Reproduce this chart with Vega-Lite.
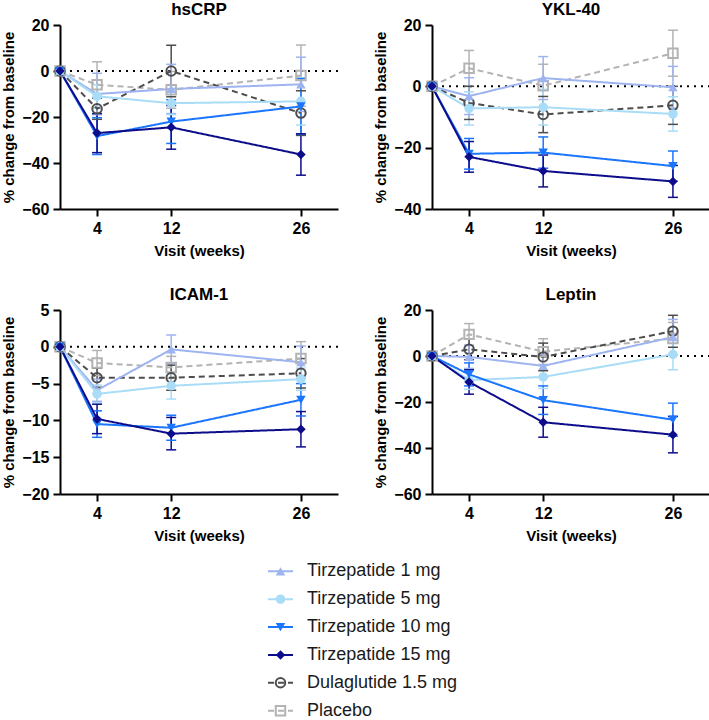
{
  "$schema": "https://vega.github.io/schema/vega-lite/v6.json",
  "padding": {"left": 1, "top": 1, "right": 0, "bottom": 0},
  "background": "white",
  "config": {
    "font": "Liberation Sans",
    "view": {"stroke": null},
    "axis": {"grid": false, "tickCount": 12, "domainColor": "#000", "domainWidth": 2, "tickColor": "#000", "tickWidth": 2, "tickSize": 7, "labelFont": "Liberation Sans", "labelFontSize": 16, "labelFontWeight": "bold", "labelColor": "#000", "labelPadding": 4, "labelOverlap": false, "titleFont": "Liberation Sans", "titleFontSize": 15, "titleFontWeight": "bold", "titleColor": "#000", "titlePadding": 7},
    "axisY": {"labelPadding": 4, "titlePadding": 5},
    "title": {"font": "Liberation Sans", "fontSize": 17, "fontWeight": "bold", "color": "#000", "offset": -2, "frame": "group"}
  },
  "datasets": {
    "main": [
      {"marker": "hsCRP", "series": "Placebo", "week": 0, "value": 0, "lo": null, "hi": null},
      {"marker": "hsCRP", "series": "Placebo", "week": 4, "value": -6, "lo": -16, "hi": 4},
      {"marker": "hsCRP", "series": "Placebo", "week": 12, "value": -8.2, "lo": -16.2, "hi": -0.2},
      {"marker": "hsCRP", "series": "Placebo", "week": 26, "value": -2, "lo": -15.3, "hi": 11.3},
      {"marker": "hsCRP", "series": "Dulaglutide 1.5 mg", "week": 0, "value": 0, "lo": null, "hi": null},
      {"marker": "hsCRP", "series": "Dulaglutide 1.5 mg", "week": 4, "value": -16.4, "lo": -21, "hi": -11.8},
      {"marker": "hsCRP", "series": "Dulaglutide 1.5 mg", "week": 12, "value": 0, "lo": -11.2, "hi": 11.2},
      {"marker": "hsCRP", "series": "Dulaglutide 1.5 mg", "week": 26, "value": -18.3, "lo": -28, "hi": -8.6},
      {"marker": "hsCRP", "series": "Tirzepatide 1 mg", "week": 0, "value": 0, "lo": null, "hi": null},
      {"marker": "hsCRP", "series": "Tirzepatide 1 mg", "week": 4, "value": -10, "lo": -19, "hi": -1},
      {"marker": "hsCRP", "series": "Tirzepatide 1 mg", "week": 12, "value": -7.8, "lo": -18.5, "hi": 2.9},
      {"marker": "hsCRP", "series": "Tirzepatide 1 mg", "week": 26, "value": -5.8, "lo": -17.6, "hi": 6},
      {"marker": "hsCRP", "series": "Tirzepatide 5 mg", "week": 0, "value": 0, "lo": null, "hi": null},
      {"marker": "hsCRP", "series": "Tirzepatide 5 mg", "week": 4, "value": -11, "lo": -16, "hi": -6},
      {"marker": "hsCRP", "series": "Tirzepatide 5 mg", "week": 12, "value": -14, "lo": -19, "hi": -9},
      {"marker": "hsCRP", "series": "Tirzepatide 5 mg", "week": 26, "value": -13.2, "lo": -23.5, "hi": -2.9},
      {"marker": "hsCRP", "series": "Tirzepatide 10 mg", "week": 0, "value": 0, "lo": null, "hi": null},
      {"marker": "hsCRP", "series": "Tirzepatide 10 mg", "week": 4, "value": -28.3, "lo": -36.3, "hi": -20.3},
      {"marker": "hsCRP", "series": "Tirzepatide 10 mg", "week": 12, "value": -22, "lo": -31.5, "hi": -12.5},
      {"marker": "hsCRP", "series": "Tirzepatide 10 mg", "week": 26, "value": -15.4, "lo": -27.5, "hi": -3.3},
      {"marker": "hsCRP", "series": "Tirzepatide 15 mg", "week": 0, "value": 0, "lo": null, "hi": null},
      {"marker": "hsCRP", "series": "Tirzepatide 15 mg", "week": 4, "value": -27, "lo": -35.5, "hi": -18.5},
      {"marker": "hsCRP", "series": "Tirzepatide 15 mg", "week": 12, "value": -24.5, "lo": -34, "hi": -15},
      {"marker": "hsCRP", "series": "Tirzepatide 15 mg", "week": 26, "value": -36.3, "lo": -45.3, "hi": -27.3},

      {"marker": "YKL-40", "series": "Placebo", "week": 0, "value": 0, "lo": null, "hi": null},
      {"marker": "YKL-40", "series": "Placebo", "week": 4, "value": 5.9, "lo": 0.1, "hi": 11.7},
      {"marker": "YKL-40", "series": "Placebo", "week": 12, "value": 0.2, "lo": -6.8, "hi": 7.2},
      {"marker": "YKL-40", "series": "Placebo", "week": 26, "value": 10.8, "lo": 3.3, "hi": 18.3},
      {"marker": "YKL-40", "series": "Dulaglutide 1.5 mg", "week": 0, "value": 0, "lo": null, "hi": null},
      {"marker": "YKL-40", "series": "Dulaglutide 1.5 mg", "week": 4, "value": -5.4, "lo": -10.8, "hi": 0},
      {"marker": "YKL-40", "series": "Dulaglutide 1.5 mg", "week": 12, "value": -9.2, "lo": -15.1, "hi": -3.3},
      {"marker": "YKL-40", "series": "Dulaglutide 1.5 mg", "week": 26, "value": -6.2, "lo": -12.4, "hi": 0},
      {"marker": "YKL-40", "series": "Tirzepatide 1 mg", "week": 0, "value": 0, "lo": null, "hi": null},
      {"marker": "YKL-40", "series": "Tirzepatide 1 mg", "week": 4, "value": -3.2, "lo": -9.2, "hi": 2.8},
      {"marker": "YKL-40", "series": "Tirzepatide 1 mg", "week": 12, "value": 2.7, "lo": -4.3, "hi": 9.7},
      {"marker": "YKL-40", "series": "Tirzepatide 1 mg", "week": 26, "value": -0.3, "lo": -7.1, "hi": 6.5},
      {"marker": "YKL-40", "series": "Tirzepatide 5 mg", "week": 0, "value": 0, "lo": null, "hi": null},
      {"marker": "YKL-40", "series": "Tirzepatide 5 mg", "week": 4, "value": -7.2, "lo": -12.6, "hi": -1.8},
      {"marker": "YKL-40", "series": "Tirzepatide 5 mg", "week": 12, "value": -6.8, "lo": -12.6, "hi": -1},
      {"marker": "YKL-40", "series": "Tirzepatide 5 mg", "week": 26, "value": -9, "lo": -14.6, "hi": -3.4},
      {"marker": "YKL-40", "series": "Tirzepatide 10 mg", "week": 0, "value": 0, "lo": null, "hi": null},
      {"marker": "YKL-40", "series": "Tirzepatide 10 mg", "week": 4, "value": -22, "lo": -27, "hi": -17},
      {"marker": "YKL-40", "series": "Tirzepatide 10 mg", "week": 12, "value": -21.6, "lo": -26.7, "hi": -16.5},
      {"marker": "YKL-40", "series": "Tirzepatide 10 mg", "week": 26, "value": -26, "lo": -30.9, "hi": -21.1},
      {"marker": "YKL-40", "series": "Tirzepatide 15 mg", "week": 0, "value": 0, "lo": null, "hi": null},
      {"marker": "YKL-40", "series": "Tirzepatide 15 mg", "week": 4, "value": -23, "lo": -28, "hi": -18},
      {"marker": "YKL-40", "series": "Tirzepatide 15 mg", "week": 12, "value": -27.6, "lo": -32.8, "hi": -22.4},
      {"marker": "YKL-40", "series": "Tirzepatide 15 mg", "week": 26, "value": -31, "lo": -36.2, "hi": -25.8},

      {"marker": "ICAM-1", "series": "Placebo", "week": 0, "value": 0, "lo": null, "hi": null},
      {"marker": "ICAM-1", "series": "Placebo", "week": 4, "value": -2.2, "lo": -3.9, "hi": -0.5},
      {"marker": "ICAM-1", "series": "Placebo", "week": 12, "value": -2.8, "lo": -4.3, "hi": -1.3},
      {"marker": "ICAM-1", "series": "Placebo", "week": 26, "value": -1.6, "lo": -3.9, "hi": 0.7},
      {"marker": "ICAM-1", "series": "Dulaglutide 1.5 mg", "week": 0, "value": 0, "lo": null, "hi": null},
      {"marker": "ICAM-1", "series": "Dulaglutide 1.5 mg", "week": 4, "value": -4.2, "lo": -5.5, "hi": -2.9},
      {"marker": "ICAM-1", "series": "Dulaglutide 1.5 mg", "week": 12, "value": -4.2, "lo": -5.9, "hi": -2.5},
      {"marker": "ICAM-1", "series": "Dulaglutide 1.5 mg", "week": 26, "value": -3.6, "lo": -5.6, "hi": -1.6},
      {"marker": "ICAM-1", "series": "Tirzepatide 1 mg", "week": 0, "value": 0, "lo": null, "hi": null},
      {"marker": "ICAM-1", "series": "Tirzepatide 1 mg", "week": 4, "value": -5.9, "lo": -7.4, "hi": -4.4},
      {"marker": "ICAM-1", "series": "Tirzepatide 1 mg", "week": 12, "value": -0.35, "lo": -2.3, "hi": 1.6},
      {"marker": "ICAM-1", "series": "Tirzepatide 1 mg", "week": 26, "value": -2.1, "lo": -4.3, "hi": 0.1},
      {"marker": "ICAM-1", "series": "Tirzepatide 5 mg", "week": 0, "value": 0, "lo": null, "hi": null},
      {"marker": "ICAM-1", "series": "Tirzepatide 5 mg", "week": 4, "value": -6.4, "lo": -7.6, "hi": -5.2},
      {"marker": "ICAM-1", "series": "Tirzepatide 5 mg", "week": 12, "value": -5.3, "lo": -7.1, "hi": -3.5},
      {"marker": "ICAM-1", "series": "Tirzepatide 5 mg", "week": 26, "value": -4.4, "lo": -5.9, "hi": -2.9},
      {"marker": "ICAM-1", "series": "Tirzepatide 10 mg", "week": 0, "value": 0, "lo": null, "hi": null},
      {"marker": "ICAM-1", "series": "Tirzepatide 10 mg", "week": 4, "value": -10.5, "lo": -12.3, "hi": -8.7},
      {"marker": "ICAM-1", "series": "Tirzepatide 10 mg", "week": 12, "value": -11, "lo": -12.7, "hi": -9.3},
      {"marker": "ICAM-1", "series": "Tirzepatide 10 mg", "week": 26, "value": -7.2, "lo": -9.4, "hi": -5},
      {"marker": "ICAM-1", "series": "Tirzepatide 15 mg", "week": 0, "value": 0, "lo": null, "hi": null},
      {"marker": "ICAM-1", "series": "Tirzepatide 15 mg", "week": 4, "value": -9.8, "lo": -11.8, "hi": -7.8},
      {"marker": "ICAM-1", "series": "Tirzepatide 15 mg", "week": 12, "value": -11.8, "lo": -14, "hi": -9.6},
      {"marker": "ICAM-1", "series": "Tirzepatide 15 mg", "week": 26, "value": -11.2, "lo": -13.6, "hi": -8.8},

      {"marker": "Leptin", "series": "Placebo", "week": 0, "value": 0, "lo": null, "hi": null},
      {"marker": "Leptin", "series": "Placebo", "week": 4, "value": 9.4, "lo": 4.7, "hi": 14.1},
      {"marker": "Leptin", "series": "Placebo", "week": 12, "value": 1.9, "lo": -3.7, "hi": 7.5},
      {"marker": "Leptin", "series": "Placebo", "week": 26, "value": 7.6, "lo": 0.6, "hi": 14.6},
      {"marker": "Leptin", "series": "Dulaglutide 1.5 mg", "week": 0, "value": 0, "lo": null, "hi": null},
      {"marker": "Leptin", "series": "Dulaglutide 1.5 mg", "week": 4, "value": 2.9, "lo": -1.6, "hi": 7.4},
      {"marker": "Leptin", "series": "Dulaglutide 1.5 mg", "week": 12, "value": -0.4, "lo": -6.4, "hi": 5.6},
      {"marker": "Leptin", "series": "Dulaglutide 1.5 mg", "week": 26, "value": 10.8, "lo": 3.8, "hi": 17.7},
      {"marker": "Leptin", "series": "Tirzepatide 1 mg", "week": 0, "value": 0, "lo": null, "hi": null},
      {"marker": "Leptin", "series": "Tirzepatide 1 mg", "week": 4, "value": -0.4, "lo": -5.4, "hi": 4.6},
      {"marker": "Leptin", "series": "Tirzepatide 1 mg", "week": 12, "value": -4.3, "lo": -9.3, "hi": 0.7},
      {"marker": "Leptin", "series": "Tirzepatide 1 mg", "week": 26, "value": 8.2, "lo": 0.5, "hi": 15.9},
      {"marker": "Leptin", "series": "Tirzepatide 5 mg", "week": 0, "value": 0, "lo": null, "hi": null},
      {"marker": "Leptin", "series": "Tirzepatide 5 mg", "week": 4, "value": -10.5, "lo": -14.5, "hi": -6.5},
      {"marker": "Leptin", "series": "Tirzepatide 5 mg", "week": 12, "value": -9.1, "lo": -14.1, "hi": -4.1},
      {"marker": "Leptin", "series": "Tirzepatide 5 mg", "week": 26, "value": 0.7, "lo": -6, "hi": 7.4},
      {"marker": "Leptin", "series": "Tirzepatide 10 mg", "week": 0, "value": 0, "lo": null, "hi": null},
      {"marker": "Leptin", "series": "Tirzepatide 10 mg", "week": 4, "value": -8, "lo": -13, "hi": -3},
      {"marker": "Leptin", "series": "Tirzepatide 10 mg", "week": 12, "value": -19.2, "lo": -25.4, "hi": -13},
      {"marker": "Leptin", "series": "Tirzepatide 10 mg", "week": 26, "value": -27.7, "lo": -34.9, "hi": -20.5},
      {"marker": "Leptin", "series": "Tirzepatide 15 mg", "week": 0, "value": 0, "lo": null, "hi": null},
      {"marker": "Leptin", "series": "Tirzepatide 15 mg", "week": 4, "value": -11.3, "lo": -16.6, "hi": -6},
      {"marker": "Leptin", "series": "Tirzepatide 15 mg", "week": 12, "value": -28.8, "lo": -35.3, "hi": -22.3},
      {"marker": "Leptin", "series": "Tirzepatide 15 mg", "week": 26, "value": -34.2, "lo": -42.1, "hi": -26.3}
    ],
    "legend": [
      {"series": "Tirzepatide 1 mg"},
      {"series": "Tirzepatide 5 mg"},
      {"series": "Tirzepatide 10 mg"},
      {"series": "Tirzepatide 15 mg"},
      {"series": "Dulaglutide 1.5 mg"},
      {"series": "Placebo"}
    ]
  },
  "spacing": 19,
  "center": false,
  "resolve": {"scale": {"x": "independent", "y": "independent"}},
  "vconcat": [
    {
      "spacing": 28,
      "resolve": {"scale": {"x": "independent", "y": "independent"}},
      "vconcat": [
        {
          "spacing": 34,
          "resolve": {"scale": {"x": "independent", "y": "independent"}},
          "hconcat": [
            {
              "width": 278, "height": 184, "title": "hsCRP",
              "layer": [
                {"data": {"values": [{}]}, "mark": {"type": "rule", "color": "#000", "strokeWidth": 2, "strokeDash": [2, 5]},
                 "encoding": {"y": {"datum": 0, "type": "quantitative", "scale": {"domain": [-60, 20], "nice": false, "zero": false}, "axis": {"values": [-60, -40, -20, 0, 20], "title": "% change from baseline"}}}},
                {"data": {"name": "main"}, "transform": [{"filter": "datum.marker === 'hsCRP'"}], "mark": {"type": "rule", "strokeWidth": 1.5},
                 "encoding": {"x": {"field": "week", "type": "quantitative", "scale": {"domain": [0, 30], "nice": false, "zero": false}, "axis": {"values": [4, 12, 26], "title": "Visit (weeks)"}},
                  "y": {"field": "lo", "type": "quantitative", "scale": {"domain": [-60, 20], "nice": false, "zero": false}, "axis": {"values": [-60, -40, -20, 0, 20], "title": "% change from baseline"}}, "y2": {"field": "hi"},
                  "color": {"field": "series", "type": "nominal", "scale": {"domain": ["Tirzepatide 1 mg", "Tirzepatide 5 mg", "Tirzepatide 10 mg", "Tirzepatide 15 mg", "Dulaglutide 1.5 mg", "Placebo"], "range": ["#9db4f0", "#a9dcf6", "#1a75ff", "#0d0d8c", "#4d4d4d", "#b3b3b3"]}, "legend": null}}},
                {"data": {"name": "main"}, "transform": [{"filter": "datum.marker === 'hsCRP'"}], "mark": {"type": "tick", "orient": "horizontal", "size": 10, "thickness": 1.5, "opacity": 1},
                 "encoding": {"x": {"field": "week", "type": "quantitative", "title": "Visit (weeks)"}, "y": {"field": "lo", "type": "quantitative", "title": "% change from baseline"}, "color": {"field": "series", "type": "nominal", "legend": null}}},
                {"data": {"name": "main"}, "transform": [{"filter": "datum.marker === 'hsCRP'"}], "mark": {"type": "tick", "orient": "horizontal", "size": 10, "thickness": 1.5, "opacity": 1},
                 "encoding": {"x": {"field": "week", "type": "quantitative", "title": "Visit (weeks)"}, "y": {"field": "hi", "type": "quantitative", "title": "% change from baseline"}, "color": {"field": "series", "type": "nominal", "legend": null}}},
                {"data": {"name": "main"}, "transform": [{"filter": "datum.marker === 'hsCRP'"}], "mark": {"type": "line", "strokeWidth": 2},
                 "encoding": {"x": {"field": "week", "type": "quantitative", "title": "Visit (weeks)"}, "y": {"field": "value", "type": "quantitative", "title": "% change from baseline"}, "color": {"field": "series", "type": "nominal", "legend": null},
                  "strokeDash": {"field": "series", "type": "nominal", "scale": {"domain": ["Tirzepatide 1 mg", "Tirzepatide 5 mg", "Tirzepatide 10 mg", "Tirzepatide 15 mg", "Dulaglutide 1.5 mg", "Placebo"], "range": [[1, 0], [1, 0], [1, 0], [1, 0], [6, 4], [6, 4]]}, "legend": null}}},
                {"data": {"name": "main"}, "transform": [{"filter": "datum.marker === 'hsCRP' && (datum.series === 'Placebo' || datum.series === 'Dulaglutide 1.5 mg')"}], "mark": {"type": "point", "filled": false, "size": 90, "strokeWidth": 2, "opacity": 1},
                 "encoding": {"x": {"field": "week", "type": "quantitative", "title": "Visit (weeks)"}, "y": {"field": "value", "type": "quantitative", "title": "% change from baseline"}, "color": {"field": "series", "type": "nominal", "legend": null},
                  "shape": {"field": "series", "type": "nominal", "scale": {"domain": ["Tirzepatide 1 mg", "Tirzepatide 5 mg", "Tirzepatide 10 mg", "Tirzepatide 15 mg", "Dulaglutide 1.5 mg", "Placebo"], "range": ["triangle-up", "circle", "triangle-down", "diamond", "circle", "square"]}, "legend": null}}},
                {"data": {"name": "main"}, "transform": [{"filter": "datum.marker === 'hsCRP' && datum.series !== 'Placebo' && datum.series !== 'Dulaglutide 1.5 mg'"}], "mark": {"type": "point", "filled": true, "size": 90, "opacity": 1},
                 "encoding": {"x": {"field": "week", "type": "quantitative", "title": "Visit (weeks)"}, "y": {"field": "value", "type": "quantitative", "title": "% change from baseline"}, "color": {"field": "series", "type": "nominal", "legend": null}, "shape": {"field": "series", "type": "nominal", "legend": null}}}
              ]
            },
            {
              "width": 278, "height": 184, "title": "YKL-40",
              "layer": [
                {"data": {"values": [{}]}, "mark": {"type": "rule", "color": "#000", "strokeWidth": 2, "strokeDash": [2, 5]},
                 "encoding": {"y": {"datum": 0, "type": "quantitative", "scale": {"domain": [-40, 20], "nice": false, "zero": false}, "axis": {"values": [-40, -20, 0, 20], "title": "% change from baseline"}}}},
                {"data": {"name": "main"}, "transform": [{"filter": "datum.marker === 'YKL-40'"}], "mark": {"type": "rule", "strokeWidth": 1.5},
                 "encoding": {"x": {"field": "week", "type": "quantitative", "scale": {"domain": [0, 30], "nice": false, "zero": false}, "axis": {"values": [4, 12, 26], "title": "Visit (weeks)"}},
                  "y": {"field": "lo", "type": "quantitative", "scale": {"domain": [-40, 20], "nice": false, "zero": false}, "axis": {"values": [-40, -20, 0, 20], "title": "% change from baseline"}}, "y2": {"field": "hi"},
                  "color": {"field": "series", "type": "nominal", "scale": {"domain": ["Tirzepatide 1 mg", "Tirzepatide 5 mg", "Tirzepatide 10 mg", "Tirzepatide 15 mg", "Dulaglutide 1.5 mg", "Placebo"], "range": ["#9db4f0", "#a9dcf6", "#1a75ff", "#0d0d8c", "#4d4d4d", "#b3b3b3"]}, "legend": null}}},
                {"data": {"name": "main"}, "transform": [{"filter": "datum.marker === 'YKL-40'"}], "mark": {"type": "tick", "orient": "horizontal", "size": 10, "thickness": 1.5, "opacity": 1},
                 "encoding": {"x": {"field": "week", "type": "quantitative", "title": "Visit (weeks)"}, "y": {"field": "lo", "type": "quantitative", "title": "% change from baseline"}, "color": {"field": "series", "type": "nominal", "legend": null}}},
                {"data": {"name": "main"}, "transform": [{"filter": "datum.marker === 'YKL-40'"}], "mark": {"type": "tick", "orient": "horizontal", "size": 10, "thickness": 1.5, "opacity": 1},
                 "encoding": {"x": {"field": "week", "type": "quantitative", "title": "Visit (weeks)"}, "y": {"field": "hi", "type": "quantitative", "title": "% change from baseline"}, "color": {"field": "series", "type": "nominal", "legend": null}}},
                {"data": {"name": "main"}, "transform": [{"filter": "datum.marker === 'YKL-40'"}], "mark": {"type": "line", "strokeWidth": 2},
                 "encoding": {"x": {"field": "week", "type": "quantitative", "title": "Visit (weeks)"}, "y": {"field": "value", "type": "quantitative", "title": "% change from baseline"}, "color": {"field": "series", "type": "nominal", "legend": null},
                  "strokeDash": {"field": "series", "type": "nominal", "scale": {"domain": ["Tirzepatide 1 mg", "Tirzepatide 5 mg", "Tirzepatide 10 mg", "Tirzepatide 15 mg", "Dulaglutide 1.5 mg", "Placebo"], "range": [[1, 0], [1, 0], [1, 0], [1, 0], [6, 4], [6, 4]]}, "legend": null}}},
                {"data": {"name": "main"}, "transform": [{"filter": "datum.marker === 'YKL-40' && (datum.series === 'Placebo' || datum.series === 'Dulaglutide 1.5 mg')"}], "mark": {"type": "point", "filled": false, "size": 90, "strokeWidth": 2, "opacity": 1},
                 "encoding": {"x": {"field": "week", "type": "quantitative", "title": "Visit (weeks)"}, "y": {"field": "value", "type": "quantitative", "title": "% change from baseline"}, "color": {"field": "series", "type": "nominal", "legend": null},
                  "shape": {"field": "series", "type": "nominal", "scale": {"domain": ["Tirzepatide 1 mg", "Tirzepatide 5 mg", "Tirzepatide 10 mg", "Tirzepatide 15 mg", "Dulaglutide 1.5 mg", "Placebo"], "range": ["triangle-up", "circle", "triangle-down", "diamond", "circle", "square"]}, "legend": null}}},
                {"data": {"name": "main"}, "transform": [{"filter": "datum.marker === 'YKL-40' && datum.series !== 'Placebo' && datum.series !== 'Dulaglutide 1.5 mg'"}], "mark": {"type": "point", "filled": true, "size": 90, "opacity": 1},
                 "encoding": {"x": {"field": "week", "type": "quantitative", "title": "Visit (weeks)"}, "y": {"field": "value", "type": "quantitative", "title": "% change from baseline"}, "color": {"field": "series", "type": "nominal", "legend": null}, "shape": {"field": "series", "type": "nominal", "legend": null}}}
              ]
            }
          ]
        },
        {
          "spacing": 34,
          "resolve": {"scale": {"x": "independent", "y": "independent"}},
          "hconcat": [
            {
              "width": 278, "height": 184, "title": "ICAM-1",
              "layer": [
                {"data": {"values": [{}]}, "mark": {"type": "rule", "color": "#000", "strokeWidth": 2, "strokeDash": [2, 5]},
                 "encoding": {"y": {"datum": 0, "type": "quantitative", "scale": {"domain": [-20, 5], "nice": false, "zero": false}, "axis": {"values": [-20, -15, -10, -5, 0, 5], "title": "% change from baseline"}}}},
                {"data": {"name": "main"}, "transform": [{"filter": "datum.marker === 'ICAM-1'"}], "mark": {"type": "rule", "strokeWidth": 1.5},
                 "encoding": {"x": {"field": "week", "type": "quantitative", "scale": {"domain": [0, 30], "nice": false, "zero": false}, "axis": {"values": [4, 12, 26], "title": "Visit (weeks)"}},
                  "y": {"field": "lo", "type": "quantitative", "scale": {"domain": [-20, 5], "nice": false, "zero": false}, "axis": {"values": [-20, -15, -10, -5, 0, 5], "title": "% change from baseline"}}, "y2": {"field": "hi"},
                  "color": {"field": "series", "type": "nominal", "scale": {"domain": ["Tirzepatide 1 mg", "Tirzepatide 5 mg", "Tirzepatide 10 mg", "Tirzepatide 15 mg", "Dulaglutide 1.5 mg", "Placebo"], "range": ["#9db4f0", "#a9dcf6", "#1a75ff", "#0d0d8c", "#4d4d4d", "#b3b3b3"]}, "legend": null}}},
                {"data": {"name": "main"}, "transform": [{"filter": "datum.marker === 'ICAM-1'"}], "mark": {"type": "tick", "orient": "horizontal", "size": 10, "thickness": 1.5, "opacity": 1},
                 "encoding": {"x": {"field": "week", "type": "quantitative", "title": "Visit (weeks)"}, "y": {"field": "lo", "type": "quantitative", "title": "% change from baseline"}, "color": {"field": "series", "type": "nominal", "legend": null}}},
                {"data": {"name": "main"}, "transform": [{"filter": "datum.marker === 'ICAM-1'"}], "mark": {"type": "tick", "orient": "horizontal", "size": 10, "thickness": 1.5, "opacity": 1},
                 "encoding": {"x": {"field": "week", "type": "quantitative", "title": "Visit (weeks)"}, "y": {"field": "hi", "type": "quantitative", "title": "% change from baseline"}, "color": {"field": "series", "type": "nominal", "legend": null}}},
                {"data": {"name": "main"}, "transform": [{"filter": "datum.marker === 'ICAM-1'"}], "mark": {"type": "line", "strokeWidth": 2},
                 "encoding": {"x": {"field": "week", "type": "quantitative", "title": "Visit (weeks)"}, "y": {"field": "value", "type": "quantitative", "title": "% change from baseline"}, "color": {"field": "series", "type": "nominal", "legend": null},
                  "strokeDash": {"field": "series", "type": "nominal", "scale": {"domain": ["Tirzepatide 1 mg", "Tirzepatide 5 mg", "Tirzepatide 10 mg", "Tirzepatide 15 mg", "Dulaglutide 1.5 mg", "Placebo"], "range": [[1, 0], [1, 0], [1, 0], [1, 0], [6, 4], [6, 4]]}, "legend": null}}},
                {"data": {"name": "main"}, "transform": [{"filter": "datum.marker === 'ICAM-1' && (datum.series === 'Placebo' || datum.series === 'Dulaglutide 1.5 mg')"}], "mark": {"type": "point", "filled": false, "size": 90, "strokeWidth": 2, "opacity": 1},
                 "encoding": {"x": {"field": "week", "type": "quantitative", "title": "Visit (weeks)"}, "y": {"field": "value", "type": "quantitative", "title": "% change from baseline"}, "color": {"field": "series", "type": "nominal", "legend": null},
                  "shape": {"field": "series", "type": "nominal", "scale": {"domain": ["Tirzepatide 1 mg", "Tirzepatide 5 mg", "Tirzepatide 10 mg", "Tirzepatide 15 mg", "Dulaglutide 1.5 mg", "Placebo"], "range": ["triangle-up", "circle", "triangle-down", "diamond", "circle", "square"]}, "legend": null}}},
                {"data": {"name": "main"}, "transform": [{"filter": "datum.marker === 'ICAM-1' && datum.series !== 'Placebo' && datum.series !== 'Dulaglutide 1.5 mg'"}], "mark": {"type": "point", "filled": true, "size": 90, "opacity": 1},
                 "encoding": {"x": {"field": "week", "type": "quantitative", "title": "Visit (weeks)"}, "y": {"field": "value", "type": "quantitative", "title": "% change from baseline"}, "color": {"field": "series", "type": "nominal", "legend": null}, "shape": {"field": "series", "type": "nominal", "legend": null}}}
              ]
            },
            {
              "width": 278, "height": 184, "title": "Leptin",
              "layer": [
                {"data": {"values": [{}]}, "mark": {"type": "rule", "color": "#000", "strokeWidth": 2, "strokeDash": [2, 5]},
                 "encoding": {"y": {"datum": 0, "type": "quantitative", "scale": {"domain": [-60, 20], "nice": false, "zero": false}, "axis": {"values": [-60, -40, -20, 0, 20], "title": "% change from baseline"}}}},
                {"data": {"name": "main"}, "transform": [{"filter": "datum.marker === 'Leptin'"}], "mark": {"type": "rule", "strokeWidth": 1.5},
                 "encoding": {"x": {"field": "week", "type": "quantitative", "scale": {"domain": [0, 30], "nice": false, "zero": false}, "axis": {"values": [4, 12, 26], "title": "Visit (weeks)"}},
                  "y": {"field": "lo", "type": "quantitative", "scale": {"domain": [-60, 20], "nice": false, "zero": false}, "axis": {"values": [-60, -40, -20, 0, 20], "title": "% change from baseline"}}, "y2": {"field": "hi"},
                  "color": {"field": "series", "type": "nominal", "scale": {"domain": ["Tirzepatide 1 mg", "Tirzepatide 5 mg", "Tirzepatide 10 mg", "Tirzepatide 15 mg", "Dulaglutide 1.5 mg", "Placebo"], "range": ["#9db4f0", "#a9dcf6", "#1a75ff", "#0d0d8c", "#4d4d4d", "#b3b3b3"]}, "legend": null}}},
                {"data": {"name": "main"}, "transform": [{"filter": "datum.marker === 'Leptin'"}], "mark": {"type": "tick", "orient": "horizontal", "size": 10, "thickness": 1.5, "opacity": 1},
                 "encoding": {"x": {"field": "week", "type": "quantitative", "title": "Visit (weeks)"}, "y": {"field": "lo", "type": "quantitative", "title": "% change from baseline"}, "color": {"field": "series", "type": "nominal", "legend": null}}},
                {"data": {"name": "main"}, "transform": [{"filter": "datum.marker === 'Leptin'"}], "mark": {"type": "tick", "orient": "horizontal", "size": 10, "thickness": 1.5, "opacity": 1},
                 "encoding": {"x": {"field": "week", "type": "quantitative", "title": "Visit (weeks)"}, "y": {"field": "hi", "type": "quantitative", "title": "% change from baseline"}, "color": {"field": "series", "type": "nominal", "legend": null}}},
                {"data": {"name": "main"}, "transform": [{"filter": "datum.marker === 'Leptin'"}], "mark": {"type": "line", "strokeWidth": 2},
                 "encoding": {"x": {"field": "week", "type": "quantitative", "title": "Visit (weeks)"}, "y": {"field": "value", "type": "quantitative", "title": "% change from baseline"}, "color": {"field": "series", "type": "nominal", "legend": null},
                  "strokeDash": {"field": "series", "type": "nominal", "scale": {"domain": ["Tirzepatide 1 mg", "Tirzepatide 5 mg", "Tirzepatide 10 mg", "Tirzepatide 15 mg", "Dulaglutide 1.5 mg", "Placebo"], "range": [[1, 0], [1, 0], [1, 0], [1, 0], [6, 4], [6, 4]]}, "legend": null}}},
                {"data": {"name": "main"}, "transform": [{"filter": "datum.marker === 'Leptin' && (datum.series === 'Placebo' || datum.series === 'Dulaglutide 1.5 mg')"}], "mark": {"type": "point", "filled": false, "size": 90, "strokeWidth": 2, "opacity": 1},
                 "encoding": {"x": {"field": "week", "type": "quantitative", "title": "Visit (weeks)"}, "y": {"field": "value", "type": "quantitative", "title": "% change from baseline"}, "color": {"field": "series", "type": "nominal", "legend": null},
                  "shape": {"field": "series", "type": "nominal", "scale": {"domain": ["Tirzepatide 1 mg", "Tirzepatide 5 mg", "Tirzepatide 10 mg", "Tirzepatide 15 mg", "Dulaglutide 1.5 mg", "Placebo"], "range": ["triangle-up", "circle", "triangle-down", "diamond", "circle", "square"]}, "legend": null}}},
                {"data": {"name": "main"}, "transform": [{"filter": "datum.marker === 'Leptin' && datum.series !== 'Placebo' && datum.series !== 'Dulaglutide 1.5 mg'"}], "mark": {"type": "point", "filled": true, "size": 90, "opacity": 1},
                 "encoding": {"x": {"field": "week", "type": "quantitative", "title": "Visit (weeks)"}, "y": {"field": "value", "type": "quantitative", "title": "% change from baseline"}, "color": {"field": "series", "type": "nominal", "legend": null}, "shape": {"field": "series", "type": "nominal", "legend": null}}}
              ]
            }
          ]
        }
      ]
    },
    {
      "width": 233, "height": 156,
      "data": {"name": "legend"},
      "layer": [
        {"mark": {"type": "rule", "strokeWidth": 2},
         "encoding": {"x": {"datum": 0, "type": "quantitative", "scale": {"domain": [-8.32, 1], "nice": false, "zero": false}, "axis": null}, "x2": {"datum": 1},
          "y": {"field": "series", "type": "nominal", "scale": {"type": "point", "domain": ["Tirzepatide 1 mg", "Tirzepatide 5 mg", "Tirzepatide 10 mg", "Tirzepatide 15 mg", "Dulaglutide 1.5 mg", "Placebo"], "padding": 0.3}, "axis": null},
          "color": {"field": "series", "type": "nominal", "scale": {"domain": ["Tirzepatide 1 mg", "Tirzepatide 5 mg", "Tirzepatide 10 mg", "Tirzepatide 15 mg", "Dulaglutide 1.5 mg", "Placebo"], "range": ["#9db4f0", "#a9dcf6", "#1a75ff", "#0d0d8c", "#4d4d4d", "#b3b3b3"]}, "legend": null},
          "strokeDash": {"field": "series", "type": "nominal", "scale": {"domain": ["Tirzepatide 1 mg", "Tirzepatide 5 mg", "Tirzepatide 10 mg", "Tirzepatide 15 mg", "Dulaglutide 1.5 mg", "Placebo"], "range": [[1, 0], [1, 0], [1, 0], [1, 0], [6, 4], [6, 4]]}, "legend": null}}},
        {"transform": [{"filter": "datum.series !== 'Placebo' && datum.series !== 'Dulaglutide 1.5 mg'"}], "mark": {"type": "point", "filled": true, "size": 90, "opacity": 1},
         "encoding": {"x": {"datum": 0.5, "type": "quantitative"}, "y": {"field": "series", "type": "nominal", "axis": null}, "color": {"field": "series", "type": "nominal", "legend": null},
          "shape": {"field": "series", "type": "nominal", "scale": {"domain": ["Tirzepatide 1 mg", "Tirzepatide 5 mg", "Tirzepatide 10 mg", "Tirzepatide 15 mg", "Dulaglutide 1.5 mg", "Placebo"], "range": ["triangle-up", "circle", "triangle-down", "diamond", "circle", "square"]}, "legend": null}}},
        {"transform": [{"filter": "datum.series === 'Placebo' || datum.series === 'Dulaglutide 1.5 mg'"}], "mark": {"type": "point", "filled": false, "size": 90, "strokeWidth": 2, "opacity": 1},
         "encoding": {"x": {"datum": 0.5, "type": "quantitative"}, "y": {"field": "series", "type": "nominal", "axis": null}, "color": {"field": "series", "type": "nominal", "legend": null}, "shape": {"field": "series", "type": "nominal", "legend": null}}},
        {"mark": {"type": "text", "align": "left", "baseline": "middle", "dx": 14, "fontSize": 18, "color": "#1a1a1a", "font": "Liberation Sans"},
         "encoding": {"x": {"datum": 1, "type": "quantitative"}, "y": {"field": "series", "type": "nominal", "axis": null}, "text": {"field": "series", "type": "nominal"}}}
      ]
    }
  ]
}
